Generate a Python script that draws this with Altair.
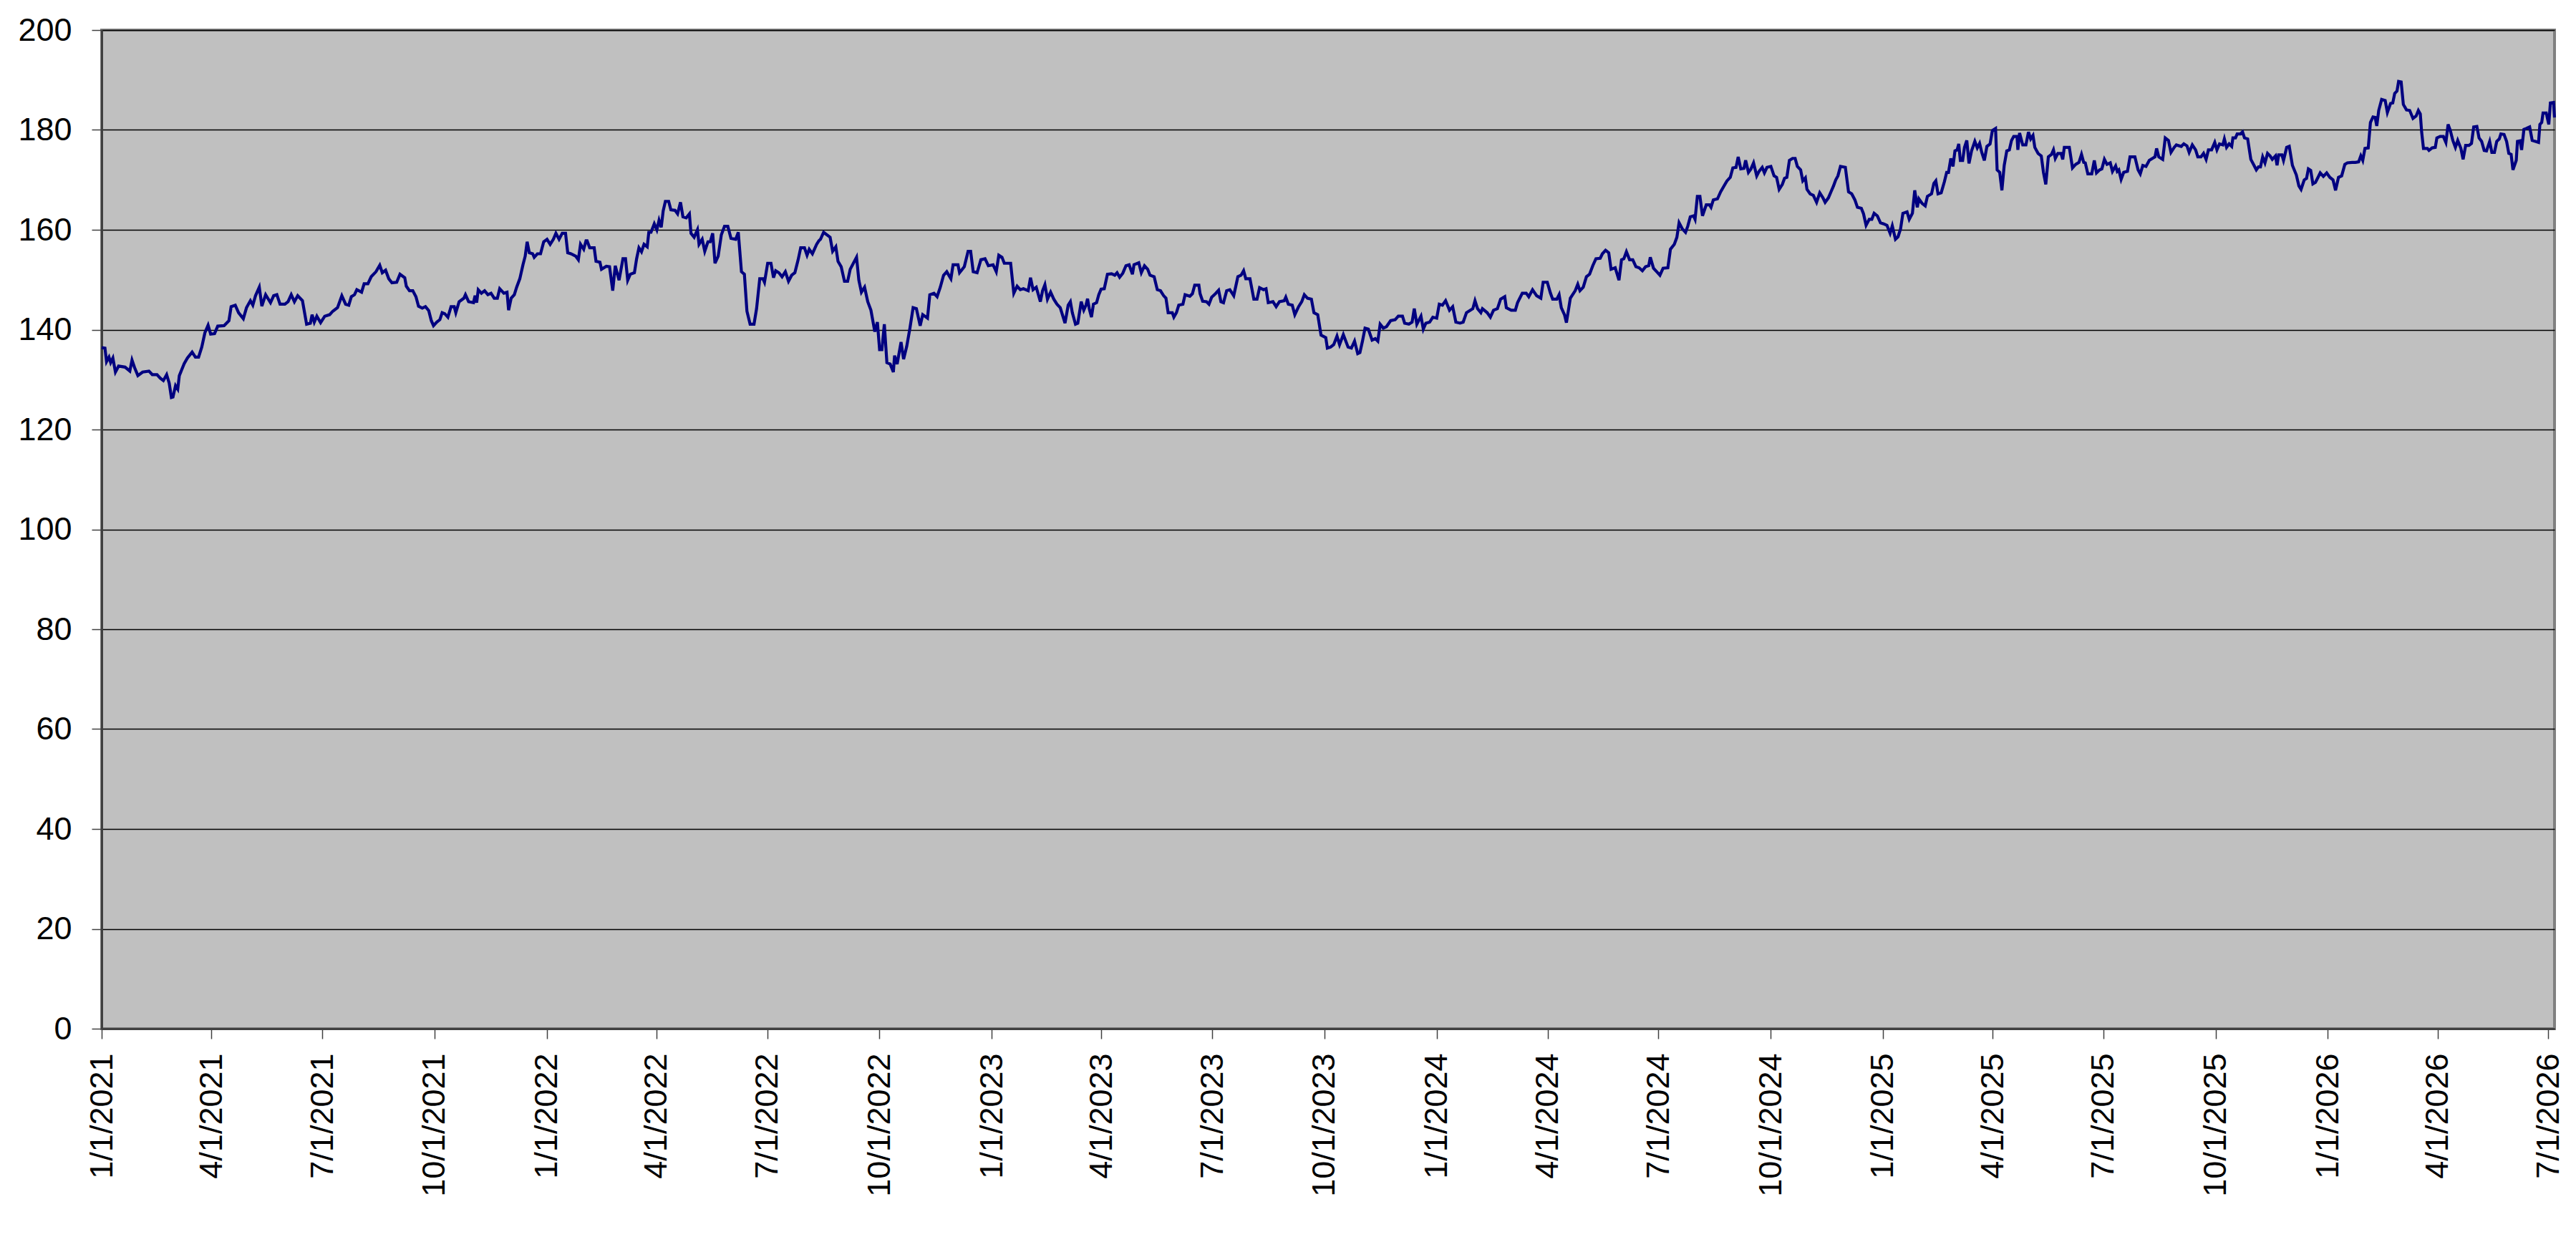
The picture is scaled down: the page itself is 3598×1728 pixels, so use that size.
import altair as alt
import pandas as pd

START = "2021-01-01"

# (days since 1/1/2021, value), by stretch of the x axis
seg_2021 = [(0,136.4),(2.7,136.3),(4,133.6),(6,134.5),(7.4,133.4),(9.2,134.3),(11.3,131.5),(13.9,132.7),(19.2,132.5),(23.1,131.7),(24.9,133.9),(27,132.4),(29.7,130.8),(33.6,131.5),(38.8,131.7),(41.5,131.0),(45.4,131.0),(48,130.3),(50.6,129.8),(53.3,131.0),(55.4,129.3),(57.2,126.4),(58.5,126.5),(60.6,128.8),(62.4,128.1),(63.7,130.8),(67.7,133.2),(70.3,134.3),(74.2,135.5),(76.9,134.5),(79.5,134.5),(82.1,136.5),(84.7,139.4),(87.3,140.9),(89.4,139.1),(92.6,139.2),(95.2,140.7),(100.4,140.8),(104.4,141.8),(106.2,144.6),(109.6,144.9),(112.3,143.4),(116.2,142.2),(118.8,144.4),(122,145.8),(124,144.9),(126.2,146.8),(129.3,148.5),(131.4,144.7),(134.5,147.0),(138.5,145.4),(141.1,146.8),(143.7,147.0),(146.3,145.1),(150.3,145.1),(152.9,145.6),(155.5,147.0),(158.1,145.6),(160.8,146.8),(164.7,145.8),(168.1,141.1),(171.2,141.3),(172.6,143.0),(174.4,141.5),(176.5,142.7),(179.6,141.4),(183,142.7),(187,143.0),(189.6,143.7),(193.5,144.4),(197,146.8),(200.1,145.1),(202.7,144.9),(204.8,146.6),(207.4,147.0),(209.3,148.0),(213.2,147.5),(215.3,149.2),(218.4,149.2),(221.1,150.6),(225,151.6),(228.1,152.9),(230.2,151.4),(232.9,151.9),(235.5,150.2),(238.1,149.4),(242,149.5),(244.7,151.1),(248.6,150.4),(249.9,148.7),(252.5,147.8),(255.2,147.8),(257.8,146.6),(259.9,144.7),(263,144.3),(265.6,144.6),(268.3,143.8),(270.4,141.8),(272.2,140.8),(274.8,141.5),(277.4,142.0),(279.3,143.4),(281.4,143.2),(284,142.5),(286.6,144.6),(289.2,144.6),(290.5,143.4),(293.2,145.6),(297.1,146.3),(298.4,147.0),(301,145.6),(305,145.4),(306.3,146.8),(307.6,145.4),(308.9,148.0),(311.5,147.3),(314.1,147.8),(316.8,147.0),(319.4,147.3),(322,146.3),(324.6,146.3),(326.5,148.2),(329.9,147.3),(332.5,147.5),(333.8,143.9),(335.9,146.3),(338.5,147.0),(340.4,148.5),(343,150.2),(345.6,153.0),(347.4,154.7),(349,157.6),(350.8,155.4),(353.5,155.2),(354.8,154.5),(357.4,155.2),(360,155.2),(362.6,157.6),(365.3,158.1),(367.9,157.1),(370.5,158.1),(372.6,159.3),(375.2,158.1),(377.8,159.3),(380.5,159.3),(382.3,155.4),(384.9,155.2),(388.9,154.7),(391,154.0),(392.8,157.1),(395.4,156.1),(397.3,157.8)]

seg_2022 = [(398.2,157.8),(400.3,156.4),(404,156.4),(405.5,153.7),(408.7,153.5),(410,152.1),(414,152.7),(416.6,152.6),(419.2,147.8),(421.3,152.8),(424.4,149.9),(427.6,154.2),(429.7,154.2),(431.5,149.9),(433.6,151.1),(437,151.4),(438.8,154.2),(440.7,156.4),(442.8,155.6),(444.9,157.1),(447.5,156.6),(448.8,159.5),(450.6,159.5),(453.3,161.2),(455.4,160.0),(457.2,161.9),(459,160.5),(460.6,163.8),(462.4,165.7),(465.1,165.7),(466.9,164.0),(470.3,163.9),(472.4,163.2),(474.8,165.5),(476.8,162.6),(479.5,162.4),(482.1,163.2),(483.4,159.3),(486,158.5),(488.7,160.0),(490,157.1),(492.6,158.1),(494.7,155.7),(497.3,157.6),(499.2,157.6),(501.2,159.3),(503.1,153.3),(505.7,154.7),(508.3,159.0),(510.9,160.7),(513.6,160.7),(516.2,158.3),(520.1,158.1),(522.2,159.5),(524.8,151.6),(527.2,151.1),(529.3,143.7),(531.9,141.1),(535.1,141.1),(537.2,144.2),(539.8,150.2),(542.4,150.2),(543.7,149.5),(546.3,153.3),(549,153.3),(551.1,150.4),(552.9,151.8),(555.5,151.4),(558.1,150.6),(560.8,151.6),(563.4,149.7),(566,150.9),(568.6,151.4),(571.3,154.0),(573.4,156.4),(576.5,156.4),(578.6,154.9),(580.4,156.1),(583,155.2),(586.5,157.1),(588.3,157.8),(589.6,158.1),(592.2,159.5),(597.5,158.5),(599.6,155.7),(602.2,156.6),(604,153.7),(606.6,152.6),(609.3,149.7),(611.9,149.7),(614,152.1),(616.6,153.3),(619.2,154.5),(621.1,149.9),(623.2,147.5),(625.8,148.5),(628.4,145.6),(631,143.9),(634.2,139.6),(636.3,141.5),(638.1,136.0),(640,136.0),(642,141.1),(644.1,133.4),(646.8,133.1),(649.4,131.5),(650.4,134.8),(652.5,133.1),(655.7,137.5),(657.8,134.1),(660.4,136.7),(663,140.3),(665.6,144.4),(668.3,144.2),(671.4,140.8),(673.5,143.0),(677.4,142.3),(679.3,147.0),(682.7,147.3),(685.3,146.6),(687.9,148.5),(690.6,150.9),(693.2,151.6),(696.6,150.2),(698.4,153.0),(702.4,153.0),(703.7,151.4),(707.6,152.6),(710.7,155.7),(712.8,155.7),(714.9,151.6),(718.1,151.4),(721.2,154.0),(724.6,154.2),(727.3,152.8),(731.2,153.0),(733.8,151.6),(735.9,154.9),(738.5,154.5),(740.4,153.3),(745.6,153.3),(748.2,147.3),(750.9,148.7),(753.5,148.0),(756.1,148.2),(760,147.8),(761.9,150.4),(764,148.0),(766.6,148.5),(770,145.6),(771.8,147.8),(773.7,149.0),(775.8,146.1),(778.4,147.5),(781,146.1),(783.6,145.1),(786.3,144.4),(790.2,141.3),(792.8,144.9),(794.6,145.6),(796.2,143.4),(798.8,141.1),(800.7,141.3)]

seg_2023 = [(803.5,145.6),(805.6,143.9),(807.4,144.9),(808.7,146.2),(810.1,144.2),(811.9,142.5),(813.5,145.1),(816.1,145.4),(817.9,147.0),(819.8,148.1),(822.4,148.2),(825,151.1),(828.4,151.2),(831,150.9),(832.9,151.4),(835,150.5),(837.6,151.3),(840.2,152.8),(842.8,153.0),(845.5,151.1),(846.8,153.0),(850.7,153.4),(852.8,151.4),(855.4,152.8),(858,152.1),(859.9,150.9),(863.3,150.6),(865.9,148.0),(868.5,147.8),(871.1,146.8),(873,146.3),(874.8,143.4),(878.2,143.4),(879.5,142.5),(881.6,143.4),(883.5,144.9),(886.9,145.1),(888.7,147.0),(892.6,146.7),(894.7,147.2),(896.6,148.9),(900,148.9),(901,147.2),(903.1,145.7),(906.3,145.6),(908.3,145.1),(910.5,146.5),(913.6,147.2),(916.2,147.9),(918.1,145.6),(920.2,145.4),(922.8,147.8),(925.4,148.0),(928.6,146.8),(932,150.6),(934.6,150.9),(936.7,151.8),(938.5,150.2),(941.9,150.2),(945.1,146.1),(947.7,146.1),(949.8,148.4),(953,148.0),(955.1,148.2),(956.9,145.4),(960.8,145.6),(963.4,144.6),(966.1,145.6),(970,145.8),(971.3,146.5),(973.4,145.1),(976.6,144.9),(978.7,143.0),(981.8,144.6),(984.4,145.6),(986.5,147.0),(989.1,146.3),(992.3,146.1),(994.4,143.4),(997.5,143.0),(1000.2,138.9),(1004.1,138.4),(1005.4,136.3),(1008,136.5),(1010.6,137.0),(1013.3,138.7),(1015.4,137.0),(1018.5,139.0),(1022.4,136.5),(1025.1,136.3),(1027.7,137.7),(1030.3,135.2),(1032.1,135.4),(1034.2,137.7),(1036.3,140.3),(1039,140.1),(1042.1,137.9),(1044.7,138.2),(1046.8,137.7),(1048.7,141.1),(1051.3,140.3),(1053.9,140.6),(1057.3,141.8),(1061,142.0),(1063.6,142.7),(1067,142.7),(1068.8,141.3),(1072.3,141.1),(1074.9,141.5),(1076.7,144.2),(1078.8,141.1),(1082.2,142.7),(1084.1,140.1),(1086.2,141.3),(1089.3,141.5),(1091.9,142.5),(1095.1,142.3),(1097.2,145.1),(1099.8,144.9),(1102.4,145.8),(1105.6,143.9),(1108.2,144.6),(1110.8,141.5),(1114.2,141.3),(1116.8,141.5),(1119.5,143.4),(1122.1,143.8),(1124.7,144.2),(1126.5,145.8),(1128.6,144.2),(1131.3,143.4),(1132.6,144.2),(1136.5,143.4),(1139.1,142.5),(1141.7,143.9),(1144.9,144.2),(1147.5,146.1),(1150.9,146.6),(1152.2,144.4),(1156.2,143.9),(1159.6,143.9),(1161.4,145.4),(1165.3,147.3),(1168.5,147.3),(1170.6,146.6),(1173.7,148.0),(1177.1,146.8),(1180.5,146.3),(1182.4,149.5),(1185.8,149.5),(1188.4,147.3),(1190.2,146.1),(1193.6,146.1),(1195.5,147.0),(1197.3,144.4),(1199.9,143.0),(1201.5,141.4),(1204.7,146.3)]

seg_2024 = [(1208.7,147.8),(1210.8,149.1),(1212.6,147.8),(1215.3,148.5),(1217.9,150.6),(1220.5,151.1),(1223.1,152.8),(1225.7,154.2),(1229.2,154.3),(1231,155.2),(1233.6,155.9),(1236.2,155.4),(1238.1,152.1),(1241.5,152.4),(1244.6,149.9),(1246.7,154.0),(1248.6,154.2),(1250.7,155.6),(1253.3,154.0),(1255.9,154.0),(1258.5,152.6),(1261.1,152.4),(1263.8,151.8),(1266.4,152.6),(1269,152.8),(1270.3,154.5),(1272.9,152.3),(1275.6,151.6),(1278.2,150.9),(1280.8,152.3),(1284.7,152.4),(1286.8,156.1),(1290,157.1),(1292.1,158.5),(1293.9,161.4),(1296.5,160.2),(1299.2,159.5),(1301,160.7),(1303.1,162.6),(1305.7,162.8),(1307,162.1),(1308.9,166.7),(1311,166.7),(1313.1,162.8),(1316.2,165.0),(1318.8,165.0),(1320.1,164.5),(1322,166.0),(1325.4,166.2),(1328,167.6),(1330.6,168.7),(1333.2,169.8),(1335.9,170.5),(1338,172.4),(1340.6,172.5),(1342.4,174.6),(1344.5,172.2),(1347.1,172.3),(1348.5,173.9),(1350.8,171.5),(1352.9,172.2),(1355,173.4),(1357.6,170.8),(1359.5,171.7),(1362.1,172.5),(1363.9,171.4),(1366,172.5),(1369.2,172.7),(1371.8,170.8),(1373.9,170.5),(1376,168.1),(1378.6,169.1),(1380.4,170.3),(1382.3,170.5),(1384.4,173.9),(1387,174.3),(1389.1,174.3),(1390.9,172.7),(1393.6,172.0),(1395.4,169.8),(1397.5,170.4),(1398.8,168.1),(1401.4,167.2),(1404,166.9),(1406.7,165.5),(1409.3,167.4),(1411.9,166.4),(1413.7,165.5),(1416.4,166.4),(1418.5,167.6),(1420.6,168.8),(1422.4,170.0),(1424.2,170.8),(1426.3,172.7),(1430.3,172.5),(1432.9,167.6),(1435.5,167.2),(1438.1,166.0),(1440.2,164.5),(1443.4,164.3),(1445.2,163.2),(1447.3,160.9),(1449.9,162.1),(1452,162.1),(1453.9,163.3),(1456.5,162.8),(1459.1,161.4),(1461.7,161.2),(1464.4,160.9),(1467,159.3),(1468.8,160.8),(1471.4,158.1),(1473.5,158.6),(1475.6,160.2),(1477.5,163.3),(1480.9,163.6),(1482.7,162.1),(1485.3,163.3),(1487.2,167.9),(1489.3,164.5),(1490.6,166.2),(1493.2,165.3),(1495.8,164.8),(1497.6,166.7),(1501,167.2),(1502.9,169.3),(1504.5,169.8),(1506.3,167.2),(1508.9,167.4),(1511.5,169.6),(1513.4,171.5),(1514.9,171.5),(1516.8,174.3),(1518.6,172.7),(1520.2,175.8),(1522,176.0),(1523.3,177.2),(1524.6,173.9),(1526.5,173.9),(1528,176.5),(1529.9,177.9),(1531.7,173.3),(1533.8,175.8),(1536.5,177.7),(1538.5,176.4),(1540.4,177.3),(1542.2,175.5),(1544.3,173.9),(1546.4,176.7),(1549,177.2),(1550.9,179.9),(1553.5,180.3),(1554.8,172.0),(1556.9,171.5),(1558.7,167.9),(1560.6,172.9),(1562.7,175.8),(1564.8,176.0),(1566.6,177.9),(1568.4,178.7),(1571.1,178.7),(1571.8,176.0),(1573.2,179.4),(1575.8,177.0),(1578.4,177.0),(1580.5,179.6),(1582.3,178.2),(1584.2,178.9),(1585.7,176.5),(1588.4,175.3),(1591,174.8),(1592.8,171.5),(1594.7,169.1),(1596.8,174.6),(1599.4,175.1),(1601,176.0),(1602.5,174.3),(1604.6,175.3),(1607.2,175.3),(1608.6,174.1),(1609.9,176.5)]

seg_2025 = [(1614,176.5),(1616.6,172.4),(1619.2,173.1),(1621.9,173.5),(1624,175.1),(1625.8,173.5),(1627.1,173.4),(1629.2,171.2),(1632.4,171.2),(1634.5,173.9),(1636.3,171.4),(1638.9,172.0),(1640.7,172.2),(1642.8,174.1),(1644.9,173.1),(1647.6,173.4),(1649.4,171.7),(1652,172.8),(1653.3,171.7),(1654.6,172.0),(1656.5,170.1),(1658.6,171.5),(1661.7,171.7),(1663.8,174.6),(1667.8,174.6),(1670.4,172.0),(1672.2,171.2),(1674.3,172.9),(1676.9,172.7),(1679.6,173.9),(1682.2,174.3),(1684.3,174.6),(1685.6,176.3),(1687.4,174.6),(1690.6,174.1),(1692.7,178.4),(1695.3,177.9),(1697.4,175.5),(1700,176.5),(1701.8,177.0),(1705.8,176.7),(1707.9,177.2),(1710.5,176.8),(1712.3,175.5),(1714.9,177.0),(1717.6,176.0),(1719.4,174.6),(1722,174.6),(1724.1,175.3),(1726.2,174.1),(1728.1,176.0),(1730.7,176.0),(1733.3,177.5),(1735.1,176.0),(1737.2,177.2),(1739.9,177.0),(1741.2,178.2),(1743,176.5),(1745.1,177.2),(1747.2,176.7),(1748.2,178.4),(1750.3,178.4),(1751.7,179.2),(1754.3,179.2),(1756.1,179.6),(1757.7,178.4),(1760.3,178.2),(1762.9,174.1),(1765.5,172.9),(1767.4,172.0),(1769.2,172.6),(1770.8,172.6),(1772.6,174.6),(1774.5,173.4),(1776.6,175.3),(1778.7,174.8),(1780.5,174.1),(1783.1,174.8),(1784.4,172.9),(1785.7,175.0),(1788.4,175.0),(1789.7,173.9),(1792.3,176.5),(1794.4,176.7),(1797,172.9),(1800.2,171.0),(1802.3,168.8),(1804.1,168.1),(1806.7,170.0),(1808.6,170.3),(1810.1,172.2),(1812,171.9),(1813.8,169.2),(1815.9,169.5),(1818,170.5),(1819.8,171.4),(1822.4,170.7),(1825.1,171.4),(1827.7,170.5),(1830.3,170.0),(1832.4,167.9),(1834.8,170.5),(1837.4,170.8),(1840,173.1),(1842.1,173.4),(1846,173.5),(1848.7,173.5),(1851.3,173.6),(1853.1,174.8),(1854.7,173.9),(1856.5,176.3),(1859.2,176.4),(1861,181.5),(1863.1,182.6),(1864.9,182.5),(1866.2,180.8),(1867.8,183.9),(1870.2,186.1),(1873.1,185.9),(1874.9,183.5),(1877.5,185.3),(1879.3,185.4),(1880.9,187.3),(1882.8,187.8),(1884.1,189.7),(1886.2,189.6),(1888,185.1),(1890.6,184.0),(1893.2,183.9),(1895.9,182.3),(1898.5,182.8),(1900.3,183.9),(1901.9,183.2),(1903,179.6),(1904.5,176.3),(1907.7,176.3),(1909,175.9),(1911.6,176.4),(1914.2,176.5),(1915.5,178.4),(1918.2,178.7),(1920.8,178.7),(1922.9,177.5),(1924.7,181.1),(1926.5,179.9),(1928.6,177.9),(1930.7,176.5),(1932.6,177.9),(1935.2,176.3),(1937,174.1),(1939.1,176.9),(1941.8,176.9),(1943.9,177.3),(1945.7,180.6),(1948.3,180.7),(1950.1,178.4),(1952.2,177.7),(1954.3,175.9),(1956.2,175.8),(1958.8,177.7),(1960.6,175.5),(1962.7,175.5),(1964.6,177.7),(1966.7,178.2),(1968,179.2),(1970.6,179.1),(1972.7,177.7),(1974.5,175.3),(1976.4,175.1),(1977.9,172.0),(1980.6,173.9),(1981.6,177.7),(1983.7,177.8),(1985,176.0),(1986.9,180.1),(1988.9,180.3),(1991.6,180.6),(1993.7,177.9),(1996.3,177.7),(1998.9,177.5),(2000,181.1),(2001.5,181.5),(2002.6,183.4),(2005.2,183.4),(2007.3,181.1),(2008.6,185.4),(2011.2,185.5),(2012,182.5)]

# quarterly tick dates (year, month), day 1: 1/1/2021 ... 7/1/2026
tick_months = [(y, m) for y in range(2021, 2027) for m in (1, 4, 7, 10)][:-1]
y_ticks = list(range(0, 201, 20))

rows = seg_2021 + seg_2022 + seg_2023 + seg_2024 + seg_2025
df = pd.DataFrame(rows, columns=["day", "value"])
df["date"] = pd.Timestamp(START) + pd.to_timedelta(df["day"], unit="D")
df = df[["date", "value"]]

FONT = "Liberation Sans, Arial, sans-serif"

x_axis = alt.Axis(
    values=[alt.DateTime(year=y, month=m, date=1) for y, m in tick_months],
    format="%-m/%-d/%Y", labelAngle=270, title=None, grid=False,
    tickSize=14, tickColor="#404040", tickWidth=1.5,
    labelPadding=20, labelFontSize=45, labelFont=FONT, labelColor="#000000",
    labelOverlap=False, labelFlush=False, labelLimit=0,
    domainColor="#404040", domainWidth=3,
)
y_axis = alt.Axis(
    values=y_ticks, title=None, grid=True, gridColor="#000000", gridWidth=1.3,
    tickSize=14, tickColor="#404040", tickWidth=1.5,
    labelPadding=28, labelFontSize=45, labelFont=FONT, labelColor="#000000",
    labelOverlap=False, labelFlush=False, labelLimit=0,
    domainColor="#404040", domainWidth=3,
)

chart = (
    alt.Chart(df)
    .mark_line(color="#000080", strokeWidth=4.2)
    .encode(
        x=alt.X("date:T", axis=x_axis,
                scale=alt.Scale(domain=[alt.DateTime(year=2021, month=1, date=1),
                                        alt.DateTime(year=2026, month=7, date=6)])),
        y=alt.Y("value:Q", axis=y_axis,
                scale=alt.Scale(domain=[0, 200], nice=False)),
    )
    .properties(
        width=3426, height=1395,
        autosize=alt.AutoSizeParams(type="none"),
        padding={"left": 134, "top": 34, "right": 18, "bottom": 270},
        background="#ffffff",
    )
    .configure_view(fill="#C0C0C0", stroke="#808080", strokeWidth=4)
)

chart.save("out.html", embed_options={"renderer": "svg", "actions": False})
